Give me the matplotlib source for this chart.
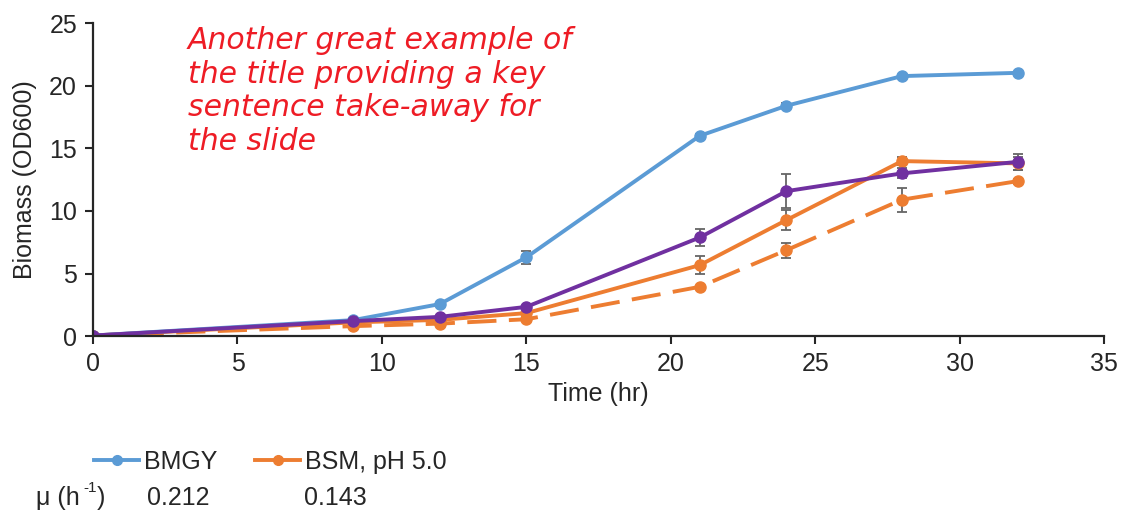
import matplotlib
matplotlib.use("Agg")
import matplotlib.pyplot as plt
from matplotlib.lines import Line2D

plt.rcParams['font.family'] = ['Liberation Sans', 'DejaVu Sans']

# time points (hr)
time = [0, 9, 12, 15, 21, 24, 28, 32]

# biomass OD600 and error bars
bmgy = [0.05, 1.28, 2.56, 6.3, 16.0, 18.4, 20.77, 21.03]
bmgy_err = [0, 0.05, 0.1, 0.5, 0.15, 0.2, 0.1, 0.1]

bsm = [0.05, 1.1, 1.3, 1.84, 5.67, 9.27, 13.98, 13.8]
bsm_err = [0, 0.05, 0.1, 0.1, 0.7, 0.83, 0.3, 0.5]

bsm_dash = [0.05, 0.8, 1.0, 1.35, 3.94, 6.87, 10.9, 12.38]
bsm_dash_err = [0, 0.05, 0.05, 0.1, 0.1, 0.6, 0.96, 0.2]

purple = [0.05, 1.2, 1.54, 2.34, 7.88, 11.58, 13.0, 13.92]
purple_err = [0, 0.05, 0.1, 0.1, 0.64, 1.35, 0.4, 0.65]

legend_labels = ['BMGY', 'BSM, pH 5.0']
mu_values = ['0.212', '0.143']

title_lines = "Another great example of\nthe title providing a key\nsentence take-away for\nthe slide"

c_blue = '#5B9BD5'
c_orange = '#ED7D31'
c_purple = '#7030A0'
c_err = '#666666'
c_text = '#262626'

fig = plt.figure(figsize=(11.21, 5.14), dpi=100)
ax = fig.add_axes([0.083, 0.346, 0.902, 0.609])

kw = dict(marker='o', markersize=8, linewidth=2.8, ecolor=c_err,
          elinewidth=1.3, capsize=3.5, capthick=1.3)
ax.errorbar(time, bsm_dash, yerr=bsm_dash_err, color=c_orange, dashes=(7.5, 3.2), **kw)
ax.errorbar(time, bsm, yerr=bsm_err, color=c_orange, **kw)
ax.errorbar(time, bmgy, yerr=bmgy_err, color=c_blue, **kw)
ax.errorbar(time, purple, yerr=purple_err, color=c_purple, **kw)

ax.set_xlim(0, 35)
ax.set_ylim(0, 25)
ax.set_xticks(range(0, 36, 5))
ax.set_yticks(range(0, 26, 5))
ax.tick_params(axis='both', labelsize=18, length=5.5, width=1.5, color=c_text,
               labelcolor=c_text)
ax.tick_params(axis='x', pad=6)
ax.tick_params(axis='y', pad=6)
for s in ['top', 'right']:
    ax.spines[s].set_visible(False)
for s in ['left', 'bottom']:
    ax.spines[s].set_linewidth(1.6)
    ax.spines[s].set_color(c_text)
ax.set_xlabel('Time (hr)', fontsize=18, labelpad=4, color=c_text)
ax.set_ylabel('Biomass (OD600)', fontsize=18, labelpad=9, color=c_text)

ax.text(0.094, 0.99, title_lines, transform=ax.transAxes, fontsize=21.5,
        color='#EE1C25', fontstyle='italic', va='top', ha='left',
        linespacing=1.2, family=['DejaVu Sans'])

handles = [Line2D([], [], color=c_blue, marker='o', markersize=7, linewidth=2.8),
           Line2D([], [], color=c_orange, marker='o', markersize=7, linewidth=2.8)]
fig.legend(handles, legend_labels, loc='center left', bbox_to_anchor=(0.064, 0.101),
           ncol=2, frameon=False, fontsize=18, handlelength=1.8, columnspacing=1.5,
           handletextpad=0.2, labelcolor=c_text)

fig.text(0.032, 0.031, 'μ (h', fontsize=18, va='center', ha='left', color=c_text)
fig.text(0.0745, 0.05, '-1', fontsize=11, va='center', ha='left', color=c_text)
fig.text(0.0865, 0.031, ')', fontsize=18, va='center', ha='left', color=c_text)
fig.text(0.131, 0.031, mu_values[0], fontsize=18, va='center', ha='left', color=c_text)
fig.text(0.271, 0.031, mu_values[1], fontsize=18, va='center', ha='left', color=c_text)

fig.savefig('out.png', dpi=100)
